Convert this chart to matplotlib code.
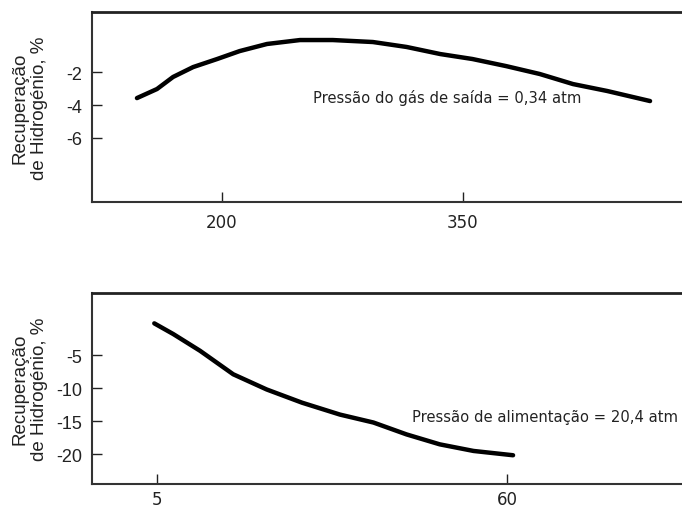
import matplotlib
matplotlib.use("Agg")
import matplotlib.pyplot as plt

# top panel: recovery vs feed pressure
top_x = [147, 159.5, 169.5, 182, 197, 211, 228, 248.6, 269, 294, 315, 336, 356, 377, 398, 418.7, 440, 466.7]
top_y = [-3.58, -3.03, -2.3, -1.7, -1.21, -0.73, -0.30, -0.06, -0.06, -0.18, -0.48, -0.91, -1.21, -1.64, -2.12, -2.73, -3.15, -3.76]
top_xticks = [200, 350]
top_yticks = [-2, -4, -6]
top_note = "Pressão do gás de saída = 0,34 atm"

# bottom panel: recovery vs outlet pressure
bot_x = [4.62, 7.6, 11.8, 17.0, 22.25, 27.8, 33.75, 39.0, 44.2, 49.4, 54.7, 60.9]
bot_y = [-0.2, -1.82, -4.35, -7.9, -10.2, -12.2, -14.0, -15.2, -17.0, -18.5, -19.5, -20.15]
bot_xticks = [5, 60]
bot_yticks = [-5, -10, -15, -20]
bot_note = "Pressão de alimentação = 20,4 atm"

ylabel = "Recuperação\nde Hidrogénio, %"

fig = plt.figure(figsize=(6.82, 5.10), dpi=100)
ax1 = fig.add_axes([0.1349, 0.602, 0.8651, 0.3725])
ax2 = fig.add_axes([0.1349, 0.049, 0.8651, 0.3745])


def style(ax, xs, ys, xticks, yticks, xlim, ylim, note, note_xy, xpad):
    ax.plot(xs, ys, color="black", lw=3.2, solid_capstyle="round", solid_joinstyle="round")
    ax.set_xlim(*xlim)
    ax.set_ylim(*ylim)
    ax.set_xticks(xticks)
    ax.set_yticks(yticks)
    ax.set_yticklabels([str(t) for t in yticks], fontfamily="Liberation Sans", fontsize=13)
    ax.set_xticklabels([str(t) for t in xticks], fontfamily="DejaVu Sans", fontsize=12)
    ax.tick_params(direction="in", length=7, width=1, colors="#222222")
    ax.tick_params(axis="y", pad=7)
    ax.tick_params(axis="x", pad=xpad)
    ax.spines["right"].set_visible(False)
    for s in ("left", "bottom"):
        ax.spines[s].set_linewidth(1.5)
        ax.spines[s].set_color("#333333")
    ax.spines["top"].set_linewidth(2)
    ax.spines["top"].set_color("#222222")
    ax.set_ylabel(ylabel, fontfamily="Liberation Sans", fontsize=13.5,
                  linespacing=1.15, color="#222222")
    # same label position in both panels
    ax.yaxis.set_label_coords(-0.075, 0.5)
    ax.text(note_xy[0], note_xy[1], note, fontsize=10.6, fontfamily="DejaVu Sans",
            va="center", ha="left", color="#222222")


style(ax1, top_x, top_y, top_xticks, top_yticks, (119, 486.6), (-9.88, 1.64),
      top_note, (256.7, -3.5), 8)
style(ax2, bot_x, bot_y, bot_xticks, bot_yticks, (-5.15, 87.4), (-24.5, 4.39),
      bot_note, (45.0, -14.3), 4)

fig.savefig("out.png", dpi=100)
